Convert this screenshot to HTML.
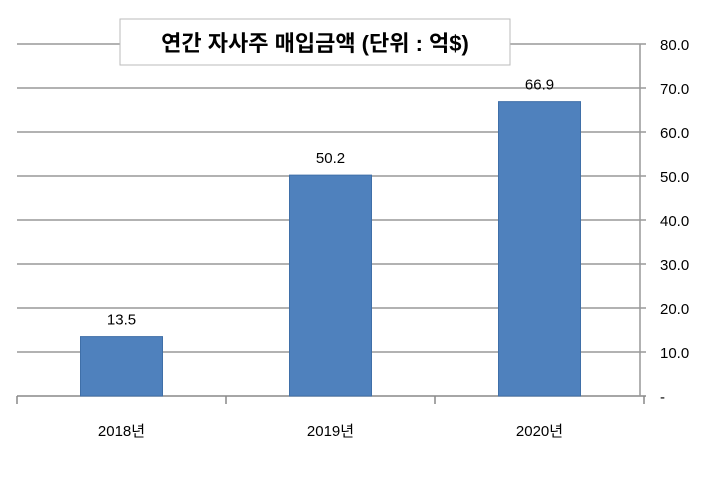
<!DOCTYPE html>
<html><head><meta charset="utf-8"><style>
body{margin:0;background:#fff;}
svg text{font-family:"Liberation Sans","Noto Sans CJK KR",sans-serif;}
</style></head><body>
<svg width="720" height="480" xmlns="http://www.w3.org/2000/svg">
<g id="grid"></g><g id="bars"></g><g id="axes"></g>
<rect x="120" y="19" width="390" height="46" fill="#fff" stroke="#bbb"/>
<text x="315" y="51" text-anchor="middle" font-size="22" font-weight="bold" fill="#000">연간 자사주 매입금액 (단위 : 억$)</text>
</svg>
<script>
const categories=["2018년","2019년","2020년"];
const values=[13.5,50.2,66.9];
const valueLabels=["13.5","50.2","66.9"];
const yTicks=[0,10,20,30,40,50,60,70,80];
const yTickLabels=["-","10.0","20.0","30.0","40.0","50.0","60.0","70.0","80.0"];
const NS="http://www.w3.org/2000/svg";
const x0=17,x1=644,yb=396,yt=44,ymax=80;
const y=v=>yb-(v/ymax)*(yb-yt);
const cw=(x1-x0)/categories.length;
const xc=i=>x0+cw*(i+0.5);
function mk(tag,attrs,parent,text){const e=document.createElementNS(NS,tag);for(const k in attrs)e.setAttribute(k,attrs[k]);if(text!==undefined)e.textContent=text;document.getElementById(parent).appendChild(e);return e;}
yTicks.forEach((t,i)=>{
  const l=mk('line',{x1:x0,x2:646,y1:y(t),y2:y(t),stroke:t===0?'#888':'#999','stroke-width':1.5},'grid');
  
  
  const tx=mk('text',{x:660,y:y(t)+6,'font-size':15,fill:'#000'},'axes',yTickLabels[i]);
  
  
});
const ax=mk('line',{x1:640,x2:640,y1:yt,y2:yb,stroke:'#999','stroke-width':1.5},'axes');


for(let i=0;i<=categories.length;i++){
  const tk=mk('line',{x1:x0+cw*i,x2:x0+cw*i,y1:yb,y2:yb+8,stroke:'#888','stroke-width':1.5},'axes');
  
  
}
categories.forEach((c,i)=>{
  const bw=82;
  const r=mk('rect',{x:xc(i)-bw/2,y:y(values[i]),width:bw,height:yb-y(values[i]),fill:'#4f81bd',stroke:'#3f6fa8','stroke-width':1},'bars');
  
  
  const vl=mk('text',{x:xc(i),y:y(values[i])-12,'text-anchor':'middle','font-size':15,fill:'#000'},'bars',valueLabels[i]);
  
  
  const cl=mk('text',{x:xc(i),y:436,'text-anchor':'middle','font-size':15,fill:'#000'},'axes',c);
  
  
});
</script>
</body></html>
